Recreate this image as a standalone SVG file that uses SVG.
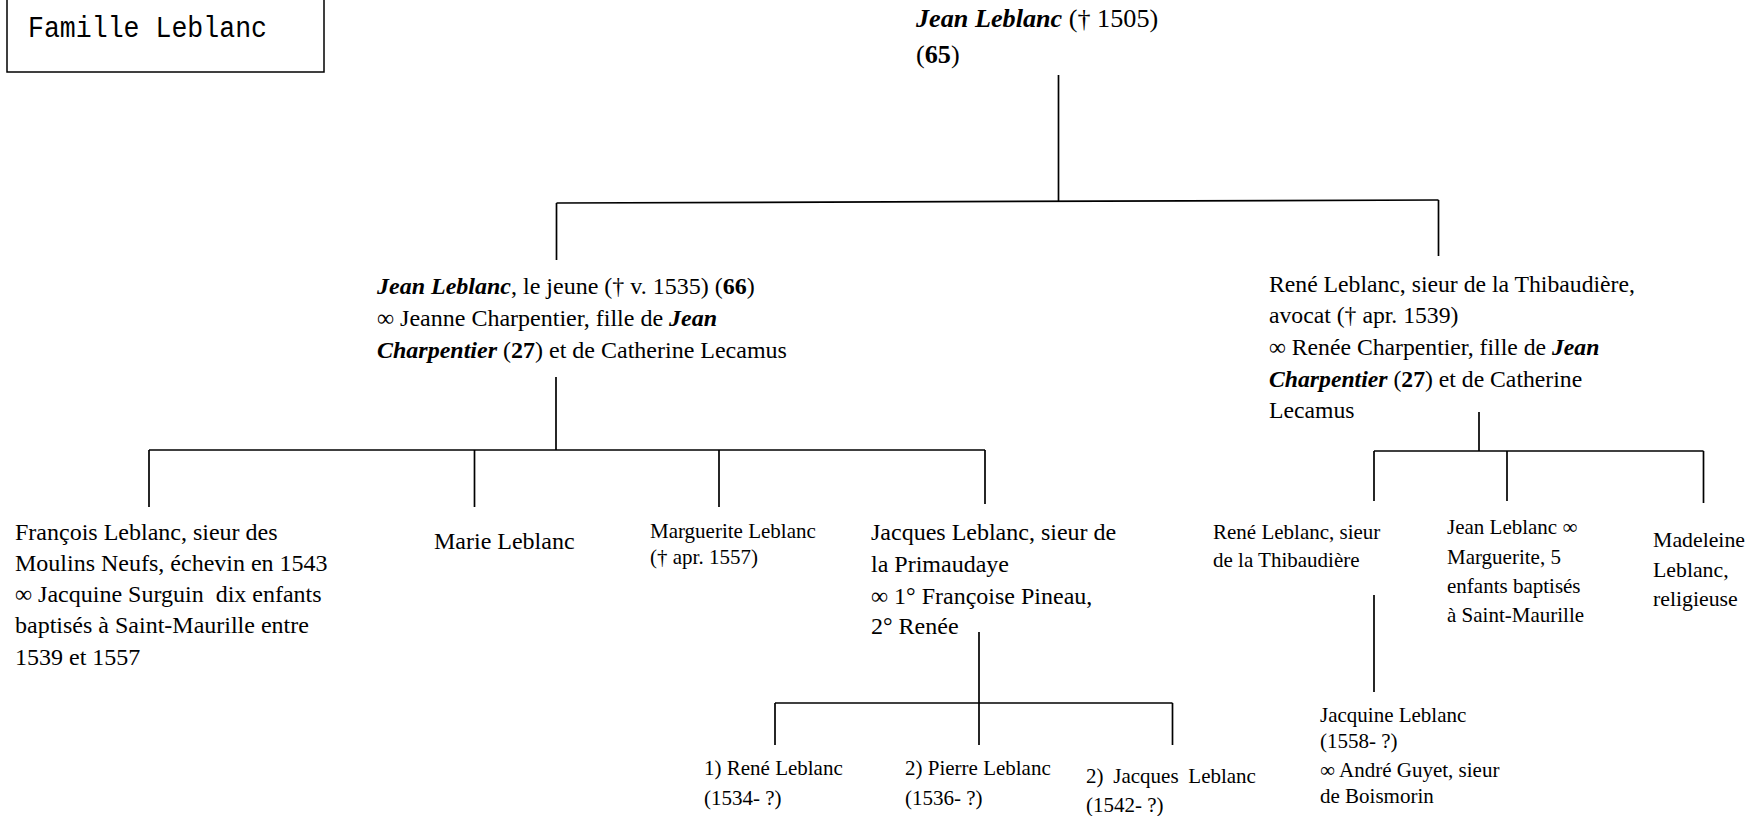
<svg xmlns="http://www.w3.org/2000/svg" width="1758" height="816" viewBox="0 0 1758 816">
<style>
text{font-family:"Liberation Serif","Times New Roman",serif;fill:#000}
.bi{font-weight:bold;font-style:italic}
.b{font-weight:bold}
.f26{font-size:26.2px}
.f24{font-size:24px}
.f235{font-size:23.7px}
.f21{font-size:21px}
.title{font-family:"Liberation Mono","Courier New",monospace;font-size:30px}
#connectors line{stroke:#000;stroke-width:1.7;fill:none}
</style>
<rect x="0" y="0" width="1758" height="816" fill="#fff"/>
<g id="title">
<rect x="7" y="-2" width="317" height="74" fill="none" stroke="#000" stroke-width="1.5"/>
<text class="title" x="28" y="37" textLength="239" lengthAdjust="spacingAndGlyphs">Famille Leblanc</text>
</g>
<g id="connectors">
<line x1="1058.5" y1="75" x2="1058.5" y2="201"/>
<line x1="556.5" y1="203" x2="1438.5" y2="200"/>
<line x1="556.5" y1="203" x2="556.5" y2="260"/>
<line x1="1438.5" y1="200" x2="1438.5" y2="256"/>
<line x1="556" y1="377" x2="556" y2="450"/>
<line x1="149" y1="450" x2="985" y2="450"/>
<line x1="149" y1="450" x2="149" y2="507"/>
<line x1="474.5" y1="450" x2="474.5" y2="507"/>
<line x1="719" y1="450" x2="719" y2="507"/>
<line x1="985" y1="450" x2="985" y2="504"/>
<line x1="979" y1="632" x2="979" y2="745"/>
<line x1="775" y1="703" x2="1172.5" y2="703"/>
<line x1="775" y1="703" x2="775" y2="745"/>
<line x1="1172.5" y1="703" x2="1172.5" y2="745"/>
<line x1="1479" y1="412" x2="1479" y2="451"/>
<line x1="1374" y1="451" x2="1703.5" y2="451"/>
<line x1="1374" y1="451" x2="1374" y2="501"/>
<line x1="1507" y1="451" x2="1507" y2="501"/>
<line x1="1703.5" y1="451" x2="1703.5" y2="503"/>
<line x1="1374" y1="595" x2="1374" y2="692"/>
</g>
<g id="n-jean-1505" class="f26">
<text x="916" y="27"><tspan class="bi">Jean Leblanc</tspan> († 1505)</text>
<text x="916" y="63">(<tspan class="b">65</tspan>)</text>
</g>
<g id="n-jean-jeune" class="f24">
<text x="377" y="294"><tspan class="bi">Jean Leblanc</tspan>, le jeune († v. 1535) (<tspan class="b">66</tspan>)</text>
<text x="377" y="326">∞ Jeanne Charpentier, fille de <tspan class="bi">Jean</tspan></text>
<text x="377" y="358"><tspan class="bi">Charpentier</tspan> (<tspan class="b">27</tspan>) et de Catherine Lecamus</text>
</g>
<g id="n-rene-1539" class="f235">
<text x="1269" y="292">René Leblanc, sieur de la Thibaudière,</text>
<text x="1269" y="323">avocat († apr. 1539)</text>
<text x="1269" y="355">∞ Renée Charpentier, fille de <tspan class="bi">Jean</tspan></text>
<text x="1269" y="387"><tspan class="bi">Charpentier</tspan> (<tspan class="b">27</tspan>) et de Catherine</text>
<text x="1269" y="418">Lecamus</text>
</g>
<g id="n-francois" class="f24">
<text x="15" y="540">François Leblanc, sieur des</text>
<text x="15" y="571">Moulins Neufs, échevin en 1543</text>
<text x="15" y="602" xml:space="preserve">∞ Jacquine Surguin  dix enfants</text>
<text x="15" y="633">baptisés à Saint-Maurille entre</text>
<text x="15" y="665">1539 et 1557</text>
</g>
<g id="n-marie" class="f24">
<text x="434" y="549">Marie Leblanc</text>
</g>
<g id="n-marguerite" class="f21">
<text x="650" y="538">Marguerite Leblanc</text>
<text x="650" y="564">(† apr. 1557)</text>
</g>
<g id="n-jacques" class="f24">
<text x="871" y="540">Jacques Leblanc, sieur de</text>
<text x="871" y="572">la Primaudaye</text>
<text x="871" y="604">∞ 1° Françoise Pineau,</text>
<text x="871" y="634">2° Renée</text>
</g>
<g id="n-rene-thib" class="f21">
<text x="1213" y="539">René Leblanc, sieur</text>
<text x="1213" y="567">de la Thibaudière</text>
</g>
<g id="n-jean-marguerite" class="f21">
<text x="1447" y="534">Jean Leblanc ∞</text>
<text x="1447" y="564">Marguerite, 5</text>
<text x="1447" y="593">enfants baptisés</text>
<text x="1447" y="622">à Saint-Maurille</text>
</g>
<g id="n-madeleine" class="f21">
<text x="1653" y="547" font-size="21.8">Madeleine</text>
<text x="1653" y="577" font-size="21.8">Leblanc,</text>
<text x="1653" y="606" font-size="21.8">religieuse</text>
</g>
<g id="n-rene-1534" class="f21">
<text x="704" y="775">1) René Leblanc</text>
<text x="704" y="805">(1534- ?)</text>
</g>
<g id="n-pierre-1536" class="f21">
<text x="905" y="775">2) Pierre Leblanc</text>
<text x="905" y="805">(1536- ?)</text>
</g>
<g id="n-jacques-1542" class="f21">
<text x="1086" y="783" word-spacing="4.5">2) Jacques Leblanc</text>
<text x="1086" y="812">(1542- ?)</text>
</g>
<g id="n-jacquine" class="f21">
<text x="1320" y="722">Jacquine Leblanc</text>
<text x="1320" y="748">(1558- ?)</text>
<text x="1320" y="777">∞ André Guyet, sieur</text>
<text x="1320" y="803">de Boismorin</text>
</g>
</svg>
